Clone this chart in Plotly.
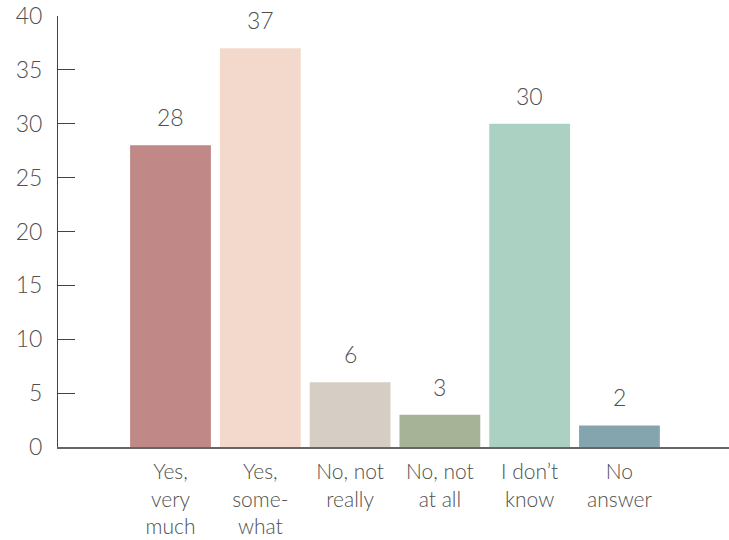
import plotly.graph_objects as go

categories = ["Yes,<br>very<br>much", "Yes,<br>some-<br>what", "No, not<br>really",
              "No, not<br>at all", "I don\u2019t<br>know", "No<br>answer"]
values = [28, 37, 6, 3, 30, 2]
colors = ["#C08886", "#F2D9CC", "#D6CEC4", "#A6B396", "#ABD1C3", "#85A5AE"]
y_ticks = [0, 5, 10, 15, 20, 25, 30, 35, 40]

FONT = "Lato"
W = 300
TXT = "#505050"

x_idx = list(range(len(categories)))

fig = go.Figure()
fig.add_trace(go.Bar(
    x=x_idx, y=values, marker=dict(color=colors, line=dict(width=0)),
    width=0.9, hoverinfo="skip",
))

for i, v in zip(x_idx, values):
    fig.add_annotation(x=i, y=v, text=str(v), showarrow=False, yanchor="bottom",
                       yshift=12, font=dict(family=FONT, size=23, color=TXT, weight=W))

fig.update_layout(
    width=729, height=540,
    margin=dict(l=58, r=0, t=16, b=93),
    plot_bgcolor="white", paper_bgcolor="white",
    showlegend=False,
    font=dict(family=FONT, size=22, color=TXT, weight=W),
)
fig.update_xaxes(
    range=[-1.253, 6.22], tickmode="array", tickvals=x_idx, ticktext=categories,
    showline=True, linecolor="#666666", linewidth=2, showgrid=False, zeroline=False,
    ticks="", ticklabelstandoff=5,
    tickfont=dict(family=FONT, size=21, color=TXT, weight=W),
)
fig.update_yaxes(
    range=[0, 40], tickmode="array", tickvals=y_ticks,
    showline=True, linecolor="#444444", linewidth=1, showgrid=False, zeroline=False,
    ticks="inside", ticklen=17, tickcolor="#444444", tickwidth=1,
    ticklabelstandoff=10,
    tickfont=dict(family=FONT, size=23, color=TXT, weight=W),
)

fig.write_html("out.html")
